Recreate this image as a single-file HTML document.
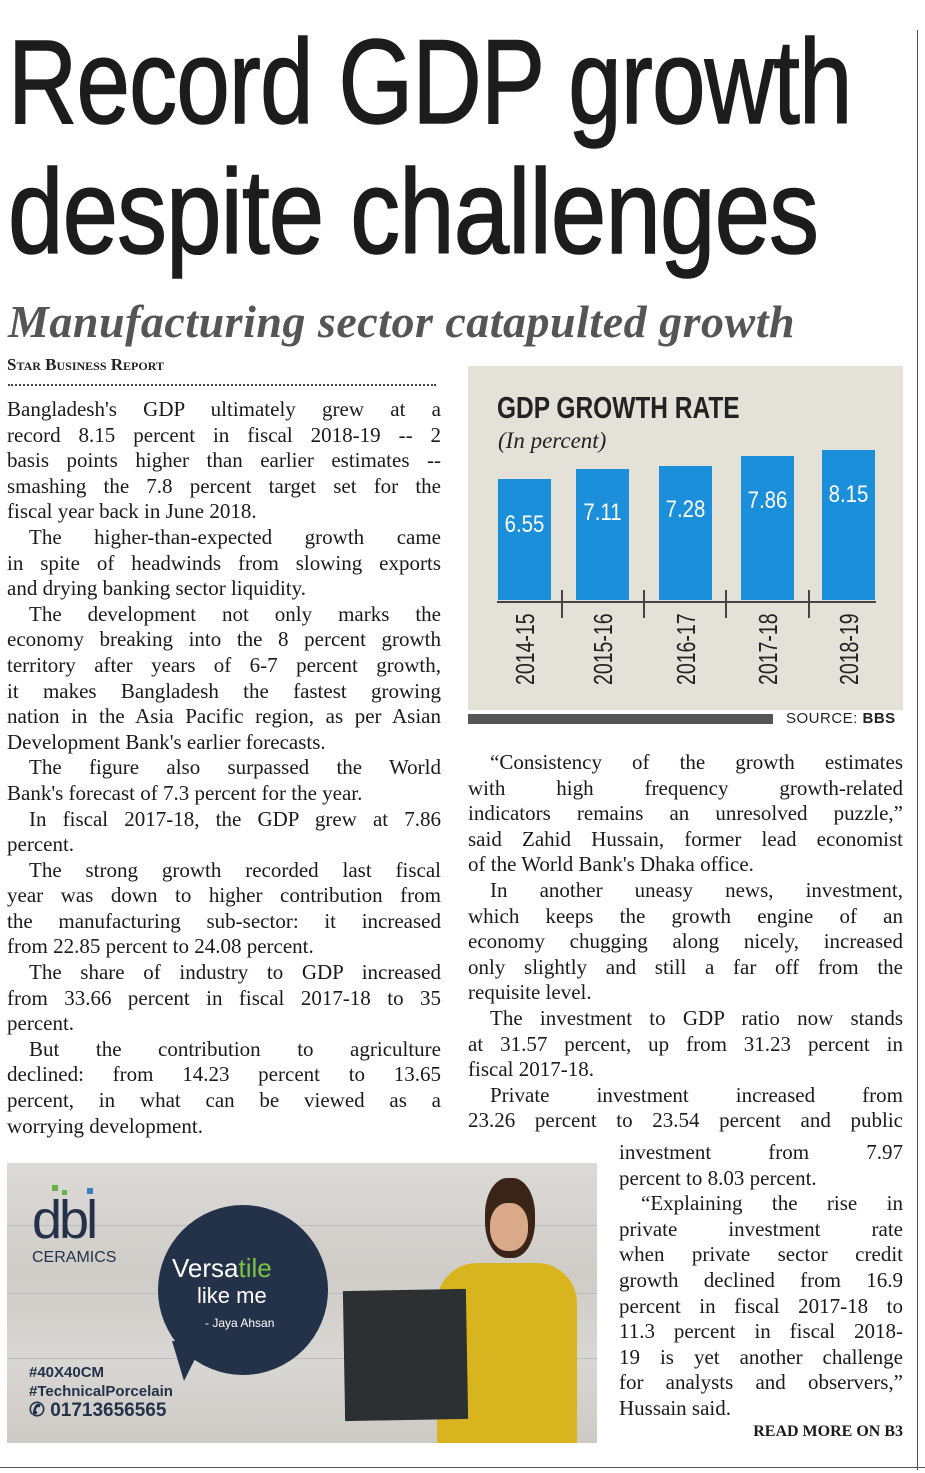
<!DOCTYPE html>
<html><head><meta charset="utf-8"><style>
*{margin:0;padding:0;box-sizing:border-box}
body{width:925px;height:1473px;background:#fff;position:relative;overflow:hidden;font-family:"Liberation Serif",serif;color:#1a1a1a}
.a{position:absolute}
.h{font-family:"Liberation Sans",sans-serif;font-size:120px;line-height:1;color:#1c1c1c;white-space:nowrap;transform-origin:0 0;letter-spacing:-1px;-webkit-text-stroke:1.5px #1c1c1c}
.col div{height:25.6px;line-height:25.6px;font-size:21px;white-space:nowrap;text-align:justify;text-align-last:justify}
.col div.e{text-align-last:left}
.col div.i{text-indent:22px}
.bar{position:absolute;background:#1b8fd9;width:53px;bottom:0}
.v{position:absolute;color:#fff;font-family:"Liberation Sans",sans-serif;font-size:24px;width:53px;text-align:center;transform:scaleX(0.85)}
.yl{position:absolute;font-family:"Liberation Sans",sans-serif;font-size:26px;line-height:1;color:#222;transform:rotate(-90deg) scaleX(0.75);transform-origin:0 0;white-space:nowrap}
.tk{position:absolute;width:2px;height:28px;background:#444;top:590px}
</style></head><body>
<div class="a h" style="left:8px;top:22px;transform:scaleX(0.80)">Record GDP growth</div>
<div class="a h" style="left:8px;top:152px;transform:scaleX(0.83)">despite challenges</div>
<div class="a" style="left:8px;top:295px;font-size:46px;font-style:italic;font-weight:bold;color:#555;white-space:nowrap;letter-spacing:0.5px">Manufacturing sector catapulted growth</div>
<div class="a" style="left:7px;top:355px;font-size:17px;font-weight:bold;font-variant:small-caps;color:#222">Star Business Report</div>
<div class="a" style="left:8px;top:384px;width:428px;border-top:2px dotted #444"></div>

<div class="a col" style="left:7px;top:397px;width:434px">
<div>Bangladesh's GDP ultimately grew at a</div>
<div>record 8.15 percent in fiscal 2018-19 -- 2</div>
<div>basis points higher than earlier estimates --</div>
<div>smashing the 7.8 percent target set for the</div>
<div class="e">fiscal year back in June 2018.</div>
<div class="i">The higher-than-expected growth came</div>
<div>in spite of headwinds from slowing exports</div>
<div class="e">and drying banking sector liquidity.</div>
<div class="i">The development not only marks the</div>
<div>economy breaking into the 8 percent growth</div>
<div>territory after years of 6-7 percent growth,</div>
<div>it makes Bangladesh the fastest growing</div>
<div>nation in the Asia Pacific region, as per Asian</div>
<div class="e">Development Bank's earlier forecasts.</div>
<div class="i">The figure also surpassed the World</div>
<div class="e">Bank's forecast of 7.3 percent for the year.</div>
<div class="i">In fiscal 2017-18, the GDP grew at 7.86</div>
<div class="e">percent.</div>
<div class="i">The strong growth recorded last fiscal</div>
<div>year was down to higher contribution from</div>
<div>the manufacturing sub-sector: it increased</div>
<div class="e">from 22.85 percent to 24.08 percent.</div>
<div class="i">The share of industry to GDP increased</div>
<div>from 33.66 percent in fiscal 2017-18 to 35</div>
<div class="e">percent.</div>
<div class="i">But the contribution to agriculture</div>
<div>declined: from 14.23 percent to 13.65</div>
<div>percent, in what can be viewed as a</div>
<div class="e">worrying development.</div>
</div>

<!-- chart -->
<div class="a" style="left:468px;top:366px;width:435px;height:344px;background:#e4e1d9"></div>
<div class="a" style="left:497px;top:390px;font-family:'Liberation Sans',sans-serif;font-weight:bold;font-size:31px;color:#222;white-space:nowrap;transform:scaleX(0.79);transform-origin:0 0">GDP GROWTH RATE</div>
<div class="a" style="left:498px;top:428px;font-style:italic;font-size:23px;color:#222">(In percent)</div>
<div class="a" style="left:0;top:0;width:925px;height:600px">
<div class="bar" style="left:498px;top:479px"></div>
<div class="bar" style="left:576px;top:469px"></div>
<div class="bar" style="left:659px;top:466px"></div>
<div class="bar" style="left:741px;top:456px"></div>
<div class="bar" style="left:822px;top:450px"></div>
</div>
<div class="v" style="left:498px;top:511px">6.55</div>
<div class="v" style="left:576px;top:499px">7.11</div>
<div class="v" style="left:659px;top:496px">7.28</div>
<div class="v" style="left:741px;top:487px">7.86</div>
<div class="v" style="left:822px;top:481px">8.15</div>
<div class="a" style="left:497px;top:601px;width:379px;height:2px;background:#444"></div>
<div class="tk" style="left:561px"></div><div class="tk" style="left:643px"></div><div class="tk" style="left:725px"></div><div class="tk" style="left:808px"></div>
<div class="yl" style="left:512px;top:685px">2014-15</div>
<div class="yl" style="left:590px;top:685px">2015-16</div>
<div class="yl" style="left:673px;top:685px">2016-17</div>
<div class="yl" style="left:755px;top:685px">2017-18</div>
<div class="yl" style="left:836px;top:685px">2018-19</div>
<div class="a" style="left:468px;top:714px;width:305px;height:10px;background:#555"></div>
<div class="a" style="left:786px;top:710px;font-family:'Liberation Sans',sans-serif;font-size:15px;color:#222;letter-spacing:0.5px">SOURCE: <b>BBS</b></div>

<div class="a col" style="left:468px;top:750px;width:435px">
<div class="i">“Consistency of the growth estimates</div>
<div>with high frequency growth-related</div>
<div>indicators remains an unresolved puzzle,”</div>
<div>said Zahid Hussain, former lead economist</div>
<div class="e">of the World Bank's Dhaka office.</div>
<div class="i">In another uneasy news, investment,</div>
<div>which keeps the growth engine of an</div>
<div>economy chugging along nicely, increased</div>
<div>only slightly and still a far off from the</div>
<div class="e">requisite level.</div>
<div class="i">The investment to GDP ratio now stands</div>
<div>at 31.57 percent, up from 31.23 percent in</div>
<div class="e">fiscal 2017-18.</div>
<div class="i">Private investment increased from</div>
<div>23.26 percent to 23.54 percent and public</div>
</div>
<div class="a col" style="left:619px;top:1140px;width:284px">
<div>investment from 7.97</div>
<div class="e">percent to 8.03 percent.</div>
<div class="i">“Explaining the rise in</div>
<div>private investment rate</div>
<div>when private sector credit</div>
<div>growth declined from 16.9</div>
<div>percent in fiscal 2017-18 to</div>
<div>11.3 percent in fiscal 2018-</div>
<div>19 is yet another challenge</div>
<div>for analysts and observers,”</div>
<div class="e">Hussain said.</div>
</div>
<div class="a" style="right:22px;top:1423px;font-size:16px;font-weight:bold">READ MORE ON B3</div>

<!-- ad -->
<div class="a" style="left:7px;top:1163px;width:590px;height:280px;background:linear-gradient(180deg,#dcdad7,#cfccc8 40%,#d9d7d3 70%,#cdcac6);overflow:hidden">
  <div class="a" style="left:0;top:62px;width:590px;height:1px;background:#bbb"></div>
  <div class="a" style="left:0;top:130px;width:590px;height:1px;background:#bbb"></div>
  <div class="a" style="left:0;top:195px;width:590px;height:1px;background:#bbb"></div>
  <div class="a" style="left:25px;top:30px;font-family:'Liberation Sans',sans-serif;font-size:54px;color:#243149;letter-spacing:-3px;line-height:1">dbl</div>
  <div class="a" style="left:45px;top:22px;width:6px;height:6px;background:#6ab04c"></div>
  <div class="a" style="left:55px;top:27px;width:5px;height:5px;background:#6ab04c"></div>
  <div class="a" style="left:80px;top:25px;width:6px;height:6px;background:#3a7fc1"></div>
  <div class="a" style="left:25px;top:86px;font-family:'Liberation Sans',sans-serif;font-size:16px;color:#243149">CERAMICS</div>
  <div class="a" style="left:151px;top:42px;width:170px;height:170px;border-radius:50%;background:#233149"></div>
  <div class="a" style="left:165px;top:178px;width:0;height:0;border-left:12px solid transparent;border-right:20px solid transparent;border-top:40px solid #233149"></div>
  <div class="a" style="left:165px;top:90px;font-family:'Liberation Sans',sans-serif;font-size:26px;color:#fff;white-space:nowrap">Versa<span style="color:#7cc243">tile</span></div>
  <div class="a" style="left:190px;top:120px;font-family:'Liberation Sans',sans-serif;font-size:22px;color:#fff">like me</div>
  <div class="a" style="left:198px;top:153px;font-family:'Liberation Sans',sans-serif;font-size:12px;color:#fff">- Jaya Ahsan</div>
  <div class="a" style="left:22px;top:200px;font-family:'Liberation Sans',sans-serif;font-weight:bold;font-size:15px;color:#233149;line-height:19px">#40X40CM<br>#TechnicalPorcelain<br><span style="font-size:19px">✆ 01713656565</span></div>
  <div class="a" style="left:478px;top:15px;width:50px;height:80px;border-radius:45%;background:#3a2418"></div>
  <div class="a" style="left:483px;top:40px;width:38px;height:48px;border-radius:45%;background:#d9a98a"></div>
  <div class="a" style="left:430px;top:100px;width:140px;height:180px;border-radius:40px 40px 0 0;background:#d8b51f"></div>
  <div class="a" style="left:337px;top:127px;width:123px;height:130px;background:#2d3033;transform:rotate(-1deg)"></div>
</div>

<div class="a" style="left:917px;top:30px;width:1px;height:1440px;background:#555"></div>
<div class="a" style="left:0;top:1467px;width:925px;height:1px;background:#555"></div>
</body></html>
